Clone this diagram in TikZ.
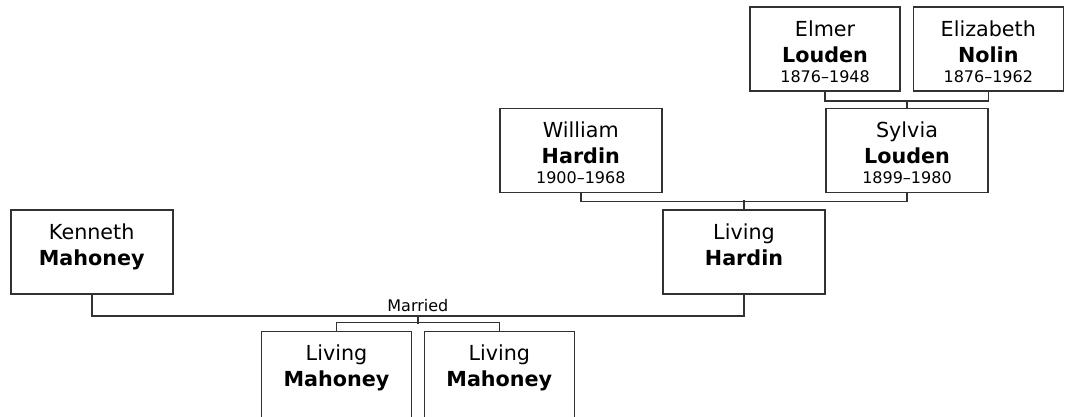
\documentclass[tikz,border=0pt]{standalone}
\usepackage{fontspec}
\setmainfont{DejaVu Sans}
\usepackage{xcolor}
\usetikzlibrary{positioning, calc}
\definecolor{treeline}{RGB}{50,50,50}
\tikzset{person/.style={draw=treeline, line width=1.6pt, inner sep=0pt, minimum height=84pt, minimum width=162pt},
    narrow/.style={person, minimum width=150pt},
    kid/.style={narrow, minimum height=96pt},
    conn/.style={draw=treeline, line width=1.6pt}}
\newcommand{\famcard}[4][84pt]{\parbox[c][#1][t]{148pt}{\centering\fontsize{20.7}{26}\selectfont
    \rule{0pt}{29.5pt}#2\\\textbf{#3}\\\fontsize{16}{20}\selectfont #4}}

\begin{document}
\begin{tikzpicture}[x=1pt, y=-1pt]
    \useasboundingbox (0,0) rectangle (1066,416);
    \clip (0,0) rectangle (1066,416);
    \node[narrow] (elmer) at (825.1,49) {\famcard{Elmer}{Louden}{1876--1948}};
    \node[narrow] (elizabeth) at (988.3,49) {\famcard{Elizabeth}{Nolin}{1876--1962}};
    \node[person] (william) at (580.8,150.4) {\famcard{William}{Hardin}{1900--1968}};
    \node[person] (sylvia) at (907,150.4) {\famcard{Sylvia}{Louden}{1899--1980}};
    \node[person] (kenneth) at (91.7,251.7) {\famcard{Kenneth}{Mahoney}{}};
    \node[person] (hardin) at (744,251.7) {\famcard{Living}{Hardin}{}};
    \node[kid] (kidone) at (336.5,379.4) {\famcard[96pt]{Living}{Mahoney}{}};
    \node[kid] (kidtwo) at (499.3,379.4) {\famcard[96pt]{Living}{Mahoney}{}};

    % parents to children
    \draw[conn] (elmer.south) -- ++(0,9) -| (elizabeth.south);
    \draw[conn] (sylvia.north) -- ++(0,-8);
    \draw[conn] (william.south) -- ++(0,8.4) -| (sylvia.south);
    \draw[conn] (hardin.north) -- ++(0,-8.7);
    \draw[conn] (kenneth.south) -- ++(0,21.7) -| node[pos=0.25, above=4pt, inner sep=0pt, font=\fontsize{16}{18}\selectfont] (married) {Married}
        coordinate[pos=0.25] (wed) (hardin.south);
    \draw[conn] (wed) -- ++(0,8);
    \draw[conn] (kidone.north) -- ++(0,-8) -| (kidtwo.north);
\end{tikzpicture}
\end{document}
